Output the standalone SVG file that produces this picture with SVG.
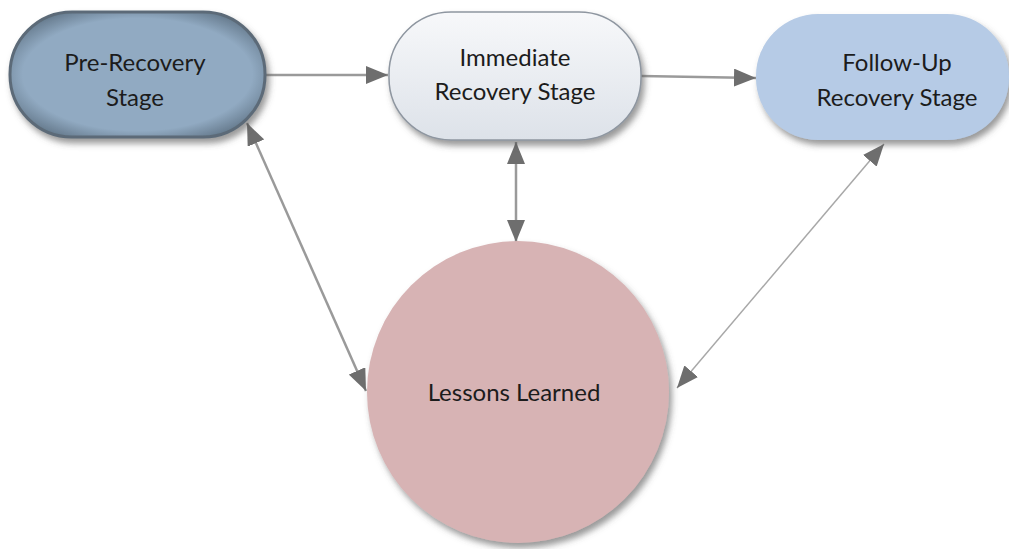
<svg xmlns="http://www.w3.org/2000/svg" width="1009" height="549" viewBox="0 0 1009 549">
<defs>
<style>
.lbl{font-family:Lato,"Open Sans","Liberation Sans",sans-serif;font-size:24px;fill:#1c1c1c;text-anchor:middle}
.con{stroke:#9a9a9a;stroke-width:2.5;fill:none}
</style>
<filter id="sh" x="-20%" y="-20%" width="140%" height="150%">
<feDropShadow dx="3" dy="5" stdDeviation="3" flood-color="#555" flood-opacity="0.6"/>
</filter>
<linearGradient id="gImm" x1="0" y1="0" x2="0" y2="1">
<stop offset="0" stop-color="#f7f8fa"/>
<stop offset="1" stop-color="#dde2e9"/>
</linearGradient>
<radialGradient id="gPre" cx="0.5" cy="0.5" r="0.6">
<stop offset="0.75" stop-color="#91aac2"/>
<stop offset="1" stop-color="#5f7385"/>
</radialGradient>
<marker id="ah" viewBox="0 0 22 18" refX="22" refY="9" markerWidth="22" markerHeight="18" markerUnits="userSpaceOnUse" orient="auto-start-reverse">
<path d="M0,0 L22,9 L0,18 z" fill="#6e6e6e"/>
</marker>
</defs>
<rect width="1009" height="549" fill="#ffffff"/>
<g id="connectors">
<line class="con" x1="266" y1="75" x2="388" y2="75" marker-end="url(#ah)"/>
<line class="con" x1="641" y1="76" x2="756" y2="78" marker-end="url(#ah)"/>
<line class="con" x1="247" y1="123" x2="366" y2="391" marker-start="url(#ah)" marker-end="url(#ah)"/>
<line class="con" x1="516" y1="142" x2="516" y2="242" marker-start="url(#ah)" marker-end="url(#ah)"/>
<line x1="884" y1="144" x2="677" y2="388" stroke="#a8a8a8" stroke-width="1.5" marker-start="url(#ah)" marker-end="url(#ah)"/>
</g>
<g id="pre">
<rect x="10" y="12" width="255" height="125" rx="62" ry="62" fill="url(#gPre)" stroke="#5c6b78" stroke-width="3" filter="url(#sh)"/>
<text class="lbl" x="135" y="71">Pre-Recovery</text>
<text class="lbl" x="135" y="106">Stage</text>
</g>
<g id="immediate">
<rect x="389" y="12" width="252" height="128" rx="62" ry="62" fill="url(#gImm)" stroke="#8e96a0" stroke-width="1.5" filter="url(#sh)"/>
<text class="lbl" x="515" y="66">Immediate</text>
<text class="lbl" x="515" y="100">Recovery Stage</text>
</g>
<g id="followup">
<rect x="756" y="14" width="253" height="126" rx="62" ry="62" fill="#b6cbe6" filter="url(#sh)"/>
<text class="lbl" x="897" y="71">Follow-Up</text>
<text class="lbl" x="897" y="106">Recovery Stage</text>
</g>
<g id="lessons">
<circle cx="518" cy="392" r="151" fill="#d7b3b4" filter="url(#sh)"/>
<text class="lbl" x="514" y="401">Lessons Learned</text>
</g>
</svg>
